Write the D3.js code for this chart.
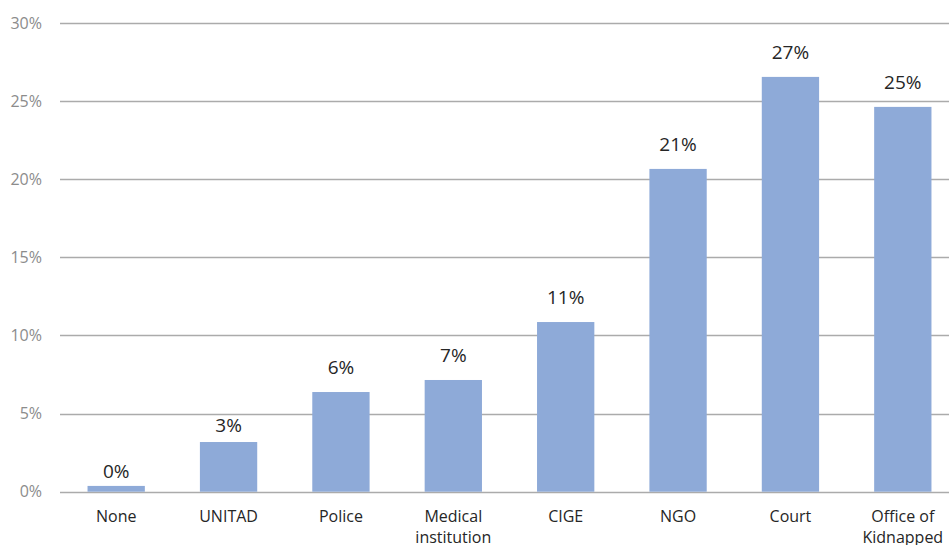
<!DOCTYPE html>
<html>
<head>
<meta charset="utf-8">
<script src="https://cdn.jsdelivr.net/npm/d3@7"></script>
<style>
  html, body { margin: 0; padding: 0; background: #fff; }
  svg { display: block; }
  text { font-family: "Open Sans", "Noto Sans", sans-serif; }
</style>
</head>
<body>
<svg id="chart" width="949" height="545"></svg>
<script>
const categories = ["None", "UNITAD", "Police", "Medical institution", "CIGE", "NGO", "Court", "Office of Kidnapped"];
const categoryLines = [["None"], ["UNITAD"], ["Police"], ["Medical", "institution"], ["CIGE"], ["NGO"], ["Court"], ["Office of", "Kidnapped"]];
const values = [0.37, 3.18, 6.38, 7.15, 10.86, 20.66, 26.55, 24.63];
const valueLabels = ["0%", "3%", "6%", "7%", "11%", "21%", "27%", "25%"];
const yTicks = [0, 5, 10, 15, 20, 25, 30];
const yTickLabels = ["0%", "5%", "10%", "15%", "20%", "25%", "30%"];

const svg = d3.select("#chart");
const plotLeft = 60, plotRight = 959, plotTop = 23, plotBottom = 491.7;

const x = d3.scaleBand().domain(categories).range([plotLeft, plotRight]).paddingInner(0.49).paddingOuter(0.245);
const y = d3.scaleLinear().domain([0, 30]).range([plotBottom, plotTop]);

// gridlines
svg.append("g").selectAll("line").data(yTicks).join("line")
  .attr("x1", plotLeft).attr("x2", 949)
  .attr("y1", d => Math.round(y(d)) + 0.5).attr("y2", d => Math.round(y(d)) + 0.5)
  .attr("stroke", "#ababab").attr("stroke-width", 1.3);

// y tick labels
svg.append("g").selectAll("text").data(yTicks).join("text")
  .attr("x", 42).attr("y", d => y(d) + 5.5)
  .attr("text-anchor", "end")
  .attr("font-size", 16).attr("fill", "#8c8c8c")
  .text((d, i) => yTickLabels[i]);

// bars
svg.append("g").selectAll("rect").data(values).join("rect")
  .attr("x", (d, i) => x(categories[i]))
  .attr("width", x.bandwidth())
  .attr("y", d => y(d))
  .attr("height", d => y(0) - y(d))
  .attr("fill", "#8eaad8");

// value labels
function labelGap(d) {
  const h = y(0) - y(d);
  return h < 60 ? 8 + h / 25 : 18;
}
svg.append("g").selectAll("text").data(values).join("text")
  .attr("x", (d, i) => x(categories[i]) + x.bandwidth() / 2)
  .attr("y", d => y(d) - labelGap(d))
  .attr("text-anchor", "middle")
  .attr("font-size", 19).attr("fill", "#262626")
  .text((d, i) => valueLabels[i]);

// category labels
const cat = svg.append("g").selectAll("text").data(categories).join("text")
  .attr("x", d => x(d) + x.bandwidth() / 2)
  .attr("y", 522)
  .attr("text-anchor", "middle")
  .attr("font-size", 16).attr("fill", "#262626");
cat.each(function(d, i) {
  const t = d3.select(this);
  categoryLines[i].forEach((line, j) => {
    t.append("tspan").attr("x", x(d) + x.bandwidth() / 2).attr("dy", j === 0 ? 0 : 20.5).text(line);
  });
});
</script>
</body>
</html>
